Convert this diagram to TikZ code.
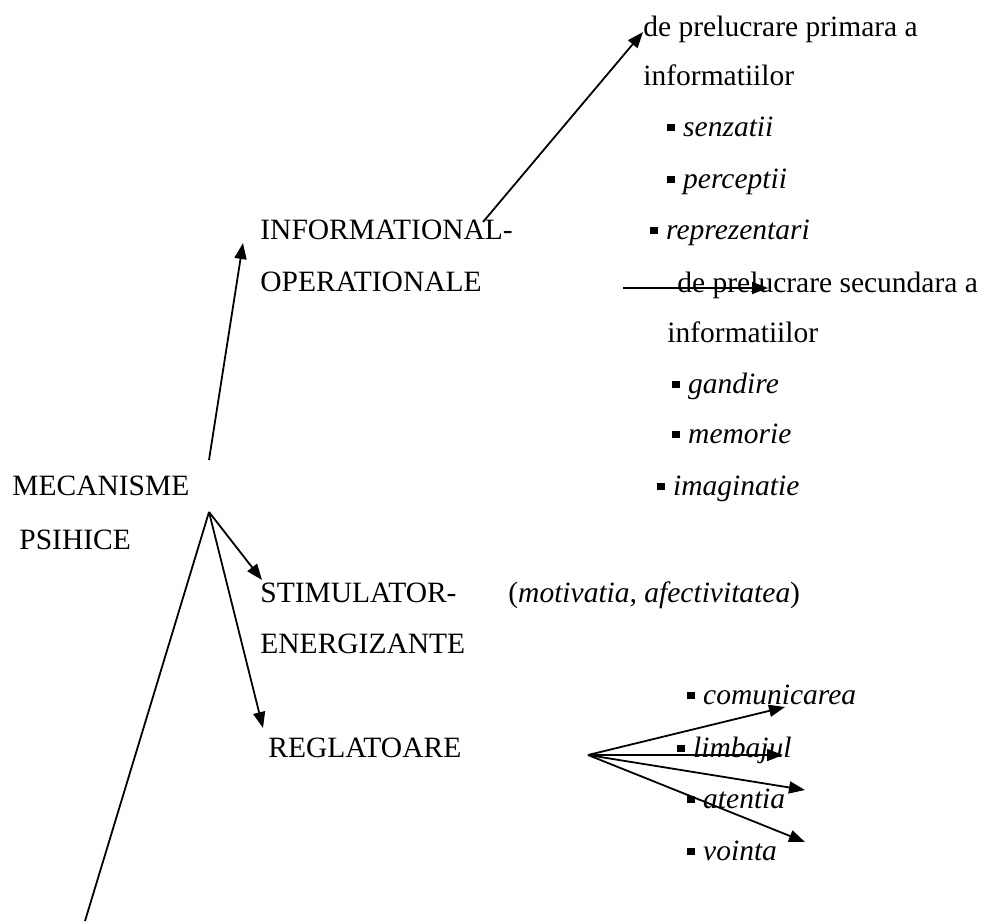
\documentclass[tikz,border=0pt]{standalone}
\usepackage{fontspec}
\setmainfont{Liberation Serif}
\usetikzlibrary{arrows.meta,calc}
\newcommand{\blt}{\rule[2.3pt]{3.6pt}{3.6pt}\hspace{4.3pt}}

\begin{document}
\begin{tikzpicture}[x=0.5pt, y=-0.5pt,
        lbl/.style={anchor=base west, inner sep=0pt, font=\fontsize{14.75pt}{18pt}\selectfont},
        arr/.style={line width=0.9pt, draw=black, -{Triangle[length=8pt,width=6pt]}},
        ln/.style={line width=0.9pt, draw=black}]
        \useasboundingbox (0,0) rectangle (984,921);

        \node[lbl] (mec) at (12,495) {MECANISME};
        \node[lbl] (psi) at (19,549) {PSIHICE};

        \node[lbl] (info) at (260,239) {INFORMATIONAL-};
        \node[lbl] (oper) at (260,291) {OPERATIONALE};
        \node[lbl] (stim) at (260,602) {STIMULATOR-};
        \node[lbl] (ener) at (260,653) {ENERGIZANTE};
        \node[lbl] (regl) at (268,757) {REGLATOARE};

        \node[lbl] (prim) at (643,36) {de prelucrare primara a};
        \node[lbl] (infA) at (643,85) {informatiilor};
        \node[lbl] (senz) at (667,136) {\blt\textit{senzatii}};
        \node[lbl] (perc) at (667,188) {\blt\textit{perceptii}};
        \node[lbl] (repr) at (650,239) {\blt\textit{reprezentari}};

        \node[lbl] (sec) at (677,292) {de prelucrare secundara a};
        \node[lbl] (infB) at (667,342) {informatiilor};
        \node[lbl] (gand) at (672,393) {\blt\textit{gandire}};
        \node[lbl] (memo) at (672,443) {\blt\textit{memorie}};
        \node[lbl] (imag) at (657,495) {\blt\textit{imaginatie}};

        \node[lbl] (moti) at (508,602) {(\textit{motivatia, afectivitatea})};

        \node[lbl] (comu) at (687,704) {\blt\textit{comunicarea}};
        \node[lbl] (limb) at (677,757) {\blt\textit{limbajul}};
        \node[lbl] (aten) at (687,808) {\blt\textit{atentia}};
        \node[lbl] (voin) at (687,860) {\blt\textit{vointa}};

        \coordinate (apex) at (209,512);
        \coordinate (up) at (209,460);
        \coordinate (low) at (85,921);
        \coordinate (tInfo) at (243,243);
        \coordinate (tStim) at (262,580);
        \coordinate (tRegl) at (263,728);
        \coordinate (oInfo) at (483,222);
        \coordinate (tPrim) at (643,32);
        \coordinate (oSec) at (623,288);
        \coordinate (tSec) at (768,288);
        \coordinate (fan) at (588,755);
        \coordinate (tComu) at (785,707);
        \coordinate (tLimb) at (783,755);
        \coordinate (tAten) at (805,790);
        \coordinate (tVoin) at (805,842);

        \draw[arr] (up) -- (tInfo);
        \draw[arr] (apex) -- (tStim);
        \draw[arr] (apex) -- (tRegl);
        \draw[ln] (apex) -- (low);
        \draw[arr] (oInfo) -- (tPrim);
        \draw[arr] (oSec) -- (tSec);
        \draw[arr] (fan) -- (tComu);
        \draw[arr] (fan) -- (tLimb);
        \draw[arr] (fan) -- (tAten);
        \draw[arr] (fan) -- (tVoin);
\end{tikzpicture}
\end{document}
